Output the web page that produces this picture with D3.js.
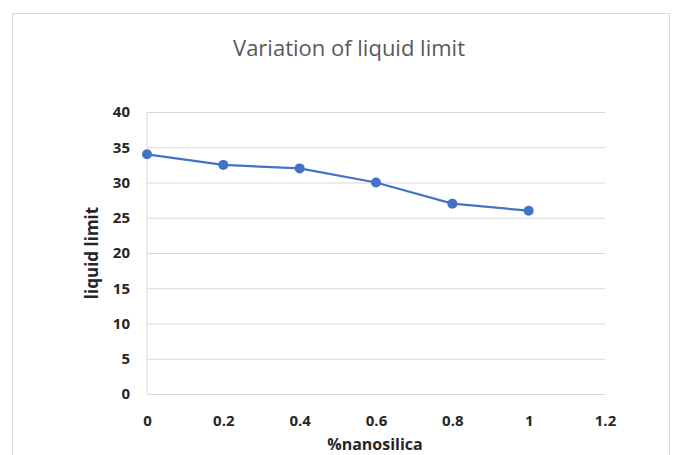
<!DOCTYPE html>
<html><head><meta charset="utf-8">
<script src="https://cdn.jsdelivr.net/npm/d3@7"></script>
<style>body{margin:0;background:#fff;}svg{display:block;}</style>
</head><body>
<svg id="chart" width="683" height="455"></svg>
<script>
const xValues = [0, 0.2, 0.4, 0.6, 0.8, 1];
const liquidLimit = [34, 32.5, 32, 30, 27, 26];
const xTicks = [0, 0.2, 0.4, 0.6, 0.8, 1, 1.2];
const yTicks = [0, 5, 10, 15, 20, 25, 30, 35, 40];
const title = "Variation of liquid limit";
const xTitle = "%nanosilica";
const yTitle = "liquid limit";

const svg = d3.select("#chart");
const W = 683, H = 455;
const m = {left: 147, right: 78, top: 112, bottom: 61};
const x = d3.scaleLinear().domain([0, 1.2]).range([m.left, W - m.right]);
const y = d3.scaleLinear().domain([0, 40]).range([H - m.bottom, m.top]);
const font = "'Open Sans', sans-serif";

svg.append("rect").attr("x", 12.5).attr("y", 13.5).attr("width", 657).attr("height", 460)
  .attr("fill", "#fff").attr("stroke", "#d9d9d9").attr("stroke-width", 1);

svg.append("text").attr("x", 349).attr("y", 56).attr("text-anchor", "middle")
  .attr("font-family", font).attr("font-size", 22).attr("fill", "#595959")
  .text(title);

const yAxis = d3.axisLeft(y).tickValues(yTicks).tickSize(-(W - m.right - m.left)).tickPadding(17);
const gy = svg.append("g").attr("transform", `translate(${m.left},0)`).call(yAxis);
gy.select(".domain").remove();
gy.selectAll(".tick line").attr("stroke", "#d9d9d9").attr("stroke-width", 1);
gy.selectAll(".tick text").attr("font-family", font).attr("font-weight", "bold")
  .attr("font-size", 15).attr("fill", "#262626");

const xAxis = d3.axisBottom(x).tickValues(xTicks).tickSize(0).tickPadding(21).tickFormat(d3.format("~g"));
const gx = svg.append("g").attr("transform", `translate(0,${H - m.bottom})`).call(xAxis);
gx.select(".domain").remove();
gx.selectAll(".tick text").attr("font-family", font).attr("font-weight", "bold")
  .attr("font-size", 15).attr("fill", "#262626");

svg.append("line").attr("x1", m.left).attr("x2", m.left).attr("y1", y(40)).attr("y2", y(0))
  .attr("stroke", "#d9d9d9");

const pts = xValues.map((d, i) => [d, liquidLimit[i]]);
svg.append("path").datum(pts).attr("fill", "none").attr("stroke", "#4472c4").attr("stroke-width", 2.25)
  .attr("d", d3.line().x(d => x(d[0])).y(d => y(d[1])));
svg.selectAll("circle.pt").data(pts).enter().append("circle").attr("class", "pt")
  .attr("cx", d => x(d[0])).attr("cy", d => y(d[1])).attr("r", 5).attr("fill", "#4472c4");

svg.append("text").attr("x", 375).attr("y", 450).attr("text-anchor", "middle")
  .attr("font-family", font).attr("font-weight", "bold").attr("font-size", 16).attr("fill", "#262626")
  .text(xTitle);
svg.append("text").attr("transform", `translate(98,${(y(40)+y(0))/2}) rotate(-90)`).attr("text-anchor", "middle")
  .attr("font-family", font).attr("font-weight", "bold").attr("font-size", 17).attr("fill", "#262626")
  .text(yTitle);
</script>
</body></html>
